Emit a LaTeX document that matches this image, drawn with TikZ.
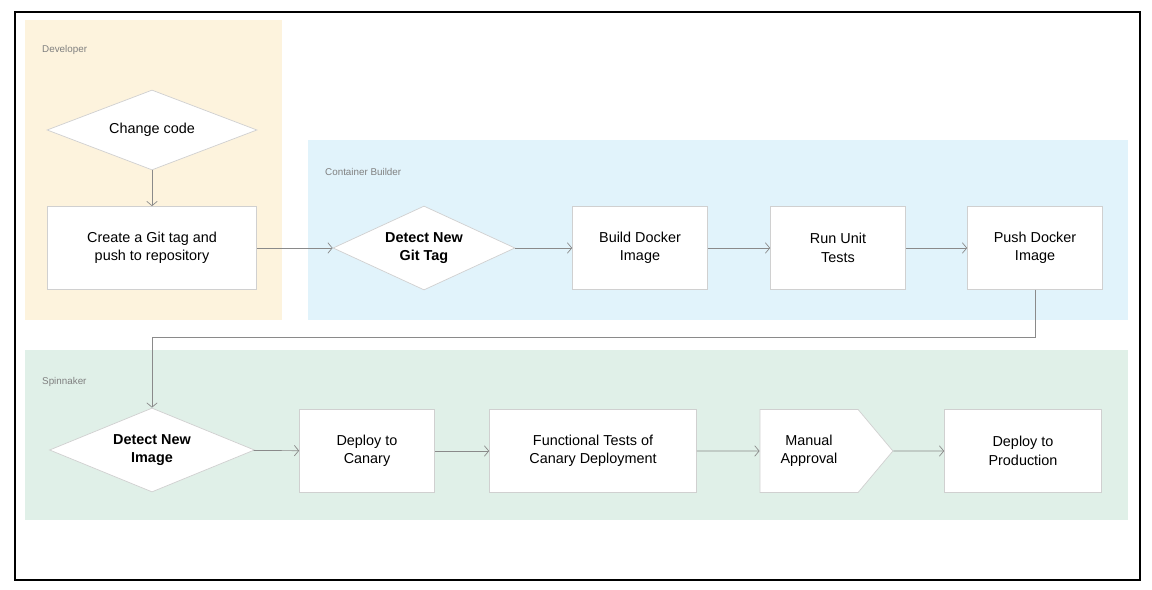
\documentclass[tikz,border=0pt]{standalone}
\usepackage{fontspec}
\setmainfont{Liberation Sans}
\usetikzlibrary{shapes.geometric,shapes.symbols,arrows.meta}
\definecolor{devbg}{HTML}{FDF3DD}
\definecolor{cbbg}{HTML}{E1F3FB}
\definecolor{spbg}{HTML}{E0F0E8}
\definecolor{edge}{HTML}{D0D0D0}
\definecolor{flow}{HTML}{8A8A8A}
\tikzstyle{task}=[draw=edge, fill=white, rectangle, minimum height=1.66cm, align=center, font=\fontsize{8.2}{10.5}\selectfont]
\tikzstyle{check}=[draw=edge, fill=white, diamond, aspect=2.4, inner sep=0pt, align=center, font=\fontsize{8.2}{10.5}\selectfont]
\tikzstyle{lane}=[font=\fontsize{5.6}{7}\selectfont, text=gray, anchor=west]
\tikzstyle{flowto}=[-{Straight Barb[length=2.5pt,width=6pt]}, draw=flow, thin]

\begin{document}
\begin{tikzpicture}[x=0.02cm, y=-0.02cm]
    \useasboundingbox (0,0) rectangle (1152,590);
    \draw[thick] (15,12) rectangle (1140,580);
    \fill[devbg] (25,20) rectangle (282,320);
    \fill[cbbg] (308,140) rectangle (1128,320);
    \fill[spbg] (25,350) rectangle (1128,520);
    \node[lane] (devlbl) at (36,50) {Developer};
    \node[lane] (cblbl) at (319,172) {Container Builder};
    \node[lane] (splbl) at (36,382) {Spinnaker};
    \node[check, minimum width=4.2cm, minimum height=1.6cm] (change) at (152,130) {Change code};
    \node[task, minimum width=4.18cm] (gittag) at (152,248) {Create a Git tag and\\push to repository};
    \node[check, minimum width=3.64cm, minimum height=1.68cm] (detecttag) at (424,248) {\textbf{Detect New}\\\textbf{Git Tag}};
    \node[task, minimum width=2.7cm] (build) at (640,248) {Build Docker\\Image};
    \node[task, minimum width=2.7cm] (unit) at (838,248) {Run Unit\\Tests};
    \node[task, minimum width=2.7cm] (push) at (1035,248) {Push Docker\\Image};
    \node[check, minimum width=4.1cm, minimum height=1.68cm] (detectimg) at (152,450) {\textbf{Detect New}\\\textbf{Image}};
    \node[task, minimum width=2.7cm] (canary) at (367,451) {Deploy to\\Canary};
    \node[task, minimum width=4.14cm] (functest) at (593,451) {Functional Tests of\\Canary Deployment};
    \node[task, signal, signal to=east, signal pointer angle=100, minimum width=2.66cm, text width=1.6cm] (approval) at (809,451) {Manual\\Approval};
    \node[task, minimum width=3.14cm] (prod) at (1023,451) {Deploy to\\Production};
    \draw[flowto] (change) -- (gittag);
    \draw[flowto] (gittag) -- (detecttag);
    \draw[flowto] (detecttag) -- (build);
    \draw[flowto] (build) -- (unit);
    \draw[flowto] (unit) -- (push);
    \draw[flowto] (push.south) |- (152,337) -- (detectimg.north);
    \draw[flowto] (detectimg) -- (canary);
    \draw[flowto] (canary) -- (functest);
    \draw[flowto] (functest) -- (approval);
    \draw[flowto] (approval) -- (prod);
\end{tikzpicture}
\end{document}
